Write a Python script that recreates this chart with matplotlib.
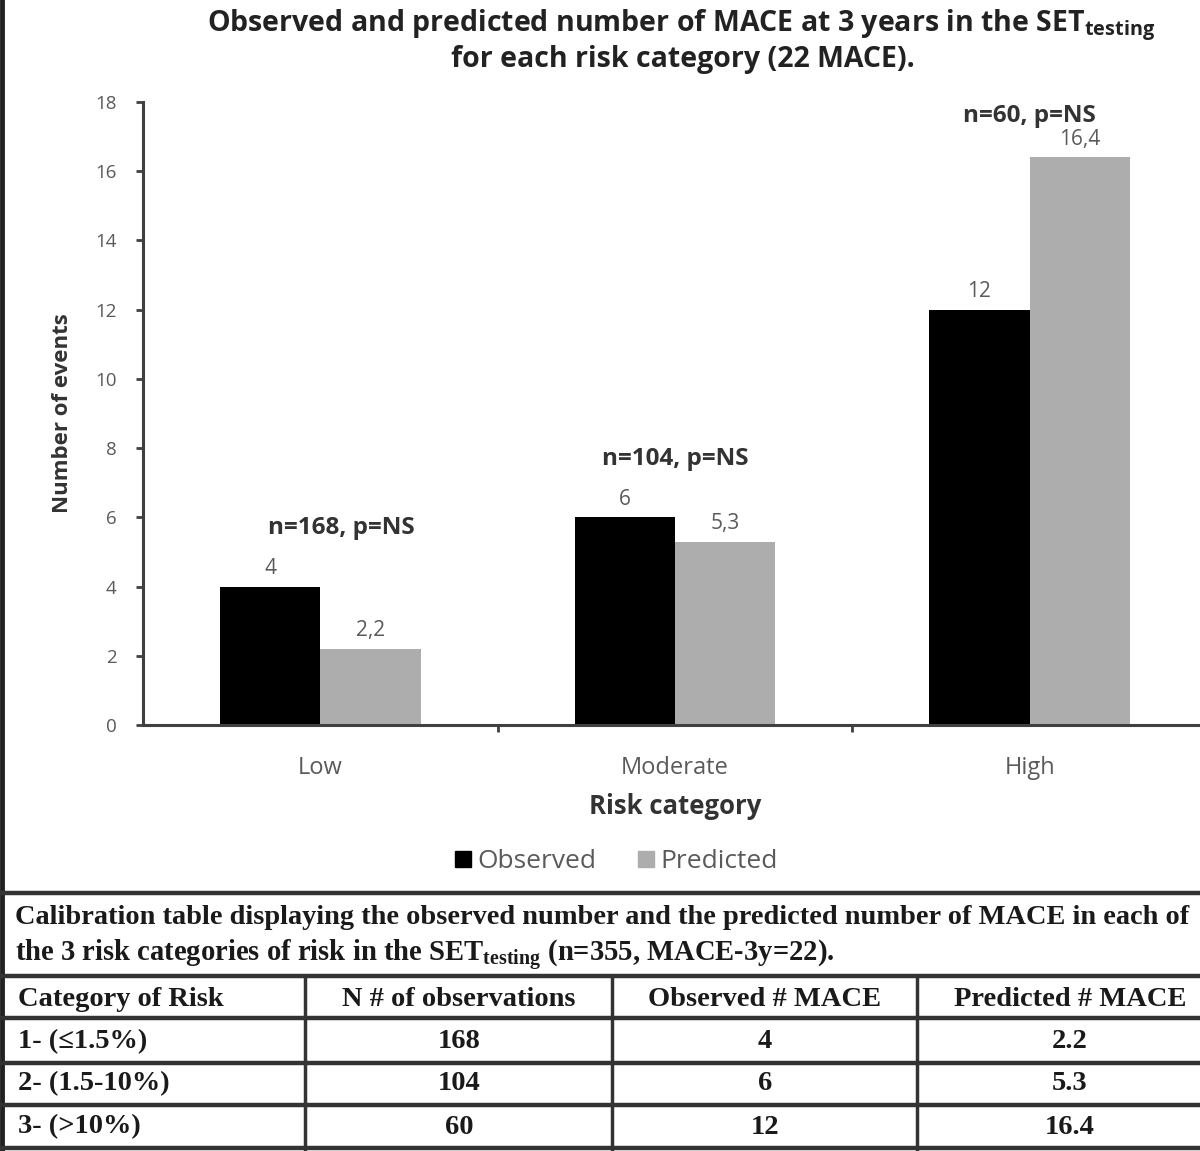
import numpy as np
import matplotlib
matplotlib.use("Agg")
import matplotlib.pyplot as plt
from matplotlib.lines import Line2D

# data
categories = ["Low", "Moderate", "High"]
observed = [4, 6, 12]
predicted = [2.2, 5.3, 16.4]
n_obs = [168, 104, 60]
risk_rows = ["1- (\u22641.5%)", "2- (1.5-10%)", "3- (>10%)"]
table_header = ["Category of Risk", "N # of observations", "Observed # MACE", "Predicted # MACE"]

W, H = 1200, 1151
fig = plt.figure(figsize=(W / 100, H / 100), dpi=100)

def fx(x):
    return x / W

def fy(y):
    return 1 - y / H

sans = "Open Sans"
serif = "Liberation Serif"
gray_txt = "#5a5a5a"

# chart
ax = fig.add_axes([fx(143), fy(725), (1207 - 143) / W, (725 - 102) / H])
x = np.arange(len(categories))
bw = 0.283
ax.bar(x - bw / 2, observed, bw, color="black", label="Observed")
ax.bar(x + bw / 2, predicted, bw, color="#adadad", label="Predicted")
ax.set_xlim(-0.5, 2.5)
ax.set_ylim(0, 18)
ax.set_yticks(range(0, 19, 2))
ax.set_xticks(x)
ax.set_xticklabels(categories)
ax.set_xticks([0.5, 1.5], minor=True)
ax.tick_params(axis="x", which="major", length=0, pad=22, labelsize=17, labelcolor=gray_txt)
ax.tick_params(axis="x", which="minor", length=5, width=2, color="#404040", direction="out")
ax.tick_params(axis="y", length=5, width=2, color="#404040", pad=14, labelsize=13.5, labelcolor=gray_txt)
for lab in ax.get_xticklabels() + ax.get_yticklabels():
    lab.set_family(sans)
for s in ["top", "right"]:
    ax.spines[s].set_visible(False)
for s in ["left", "bottom"]:
    ax.spines[s].set_linewidth(2.2)
    ax.spines[s].set_color("#404040")

def fmt(v):
    return str(v).replace(".", ",")

for i in range(len(categories)):
    ax.annotate(fmt(observed[i]), (x[i] - bw / 2, observed[i]), xytext=(0, 13), textcoords="offset points",
                ha="center", va="center", fontsize=15, color=gray_txt, family=sans)
    ax.annotate(fmt(predicted[i]), (x[i] + bw / 2, predicted[i]), xytext=(0, 13), textcoords="offset points",
                ha="center", va="center", fontsize=15, color=gray_txt, family=sans)
    top = max(observed[i], predicted[i])
    ax.annotate("n=%d, p=NS" % n_obs[i], (x[i] + (0.06 if i == 0 else 0), top), xytext=(0, 42 if i < 2 else 30),
                textcoords="offset points", ha="center", va="center", fontsize=17.5, fontweight="bold",
                color="#333333", family=sans)

ax.set_ylabel("Number of events", fontsize=16, fontweight="bold", family=sans, color="#333333", labelpad=16)
fig.text(fx(675), fy(806), "Risk category", ha="center", va="center", fontsize=18.5, fontweight="bold",
         family=sans, color="#333333")

handles = [Line2D([], [], marker="s", ls="", color="black", markersize=11),
           Line2D([], [], marker="s", ls="", color="#adadad", markersize=11)]
fig.legend(handles, ["Observed", "Predicted"], loc="center", bbox_to_anchor=(fx(615), fy(862)), ncol=2,
           frameon=False, prop={"family": sans, "size": 19}, labelcolor=gray_txt,
           handletextpad=0.15, columnspacing=1.5, handlelength=0.8)

fig.text(fx(681), fy(25), r"Observed and predicted number of MACE at 3 years in the SET$_{\mathregular{testing}}$",
         ha="center", va="center", fontsize=20.5, fontweight="bold", family=sans, color="#222222")
fig.text(fx(683), fy(60), "for each risk category (22 MACE).", ha="center", va="center",
         fontsize=20.5, fontweight="bold", family=sans, color="#222222")

# left border
fig.add_artist(Line2D([fx(2), fx(2)], [0, 1], color="#222222", lw=3.5))

# table
lc = "#333333"
for yy in [893, 976, 1018, 1063, 1105, 1148]:
    fig.add_artist(Line2D([0, 1], [fy(yy), fy(yy)], color=lc, lw=3.2))
for xx in [305, 612, 917]:
    fig.add_artist(Line2D([fx(xx), fx(xx)], [fy(976), fy(1151)], color=lc, lw=2.5))

fig.text(fx(15), fy(918), "Calibration table displaying the observed number and the predicted number of MACE in each of",
         ha="left", va="center", fontsize=20.4, fontweight="bold", family=serif, color="#1a1a1a")
fig.text(fx(15), fy(955), r"the 3 risk categories of risk in the SET$_{\mathregular{testing}}$ (n=355, MACE-3y=22).",
         ha="left", va="center", fontsize=20.6, fontweight="bold", family=serif, color="#1a1a1a")

col_x = [18, 459, 765, 1070]
row_y = [1000, 1042, 1084, 1127]
for j, h in enumerate(table_header):
    fig.text(fx(col_x[j]), fy(row_y[0]), h, ha="left" if j == 0 else "center", va="center",
             fontsize=20.5, fontweight="bold", family=serif, color="#1a1a1a")
for i in range(3):
    vals = [risk_rows[i], str(n_obs[i]), str(observed[i]), str(predicted[i])]
    for j, v in enumerate(vals):
        fig.text(fx(col_x[j]), fy(row_y[i + 1]), v, ha="left" if j == 0 else "center", va="center",
                 fontsize=20.5, fontweight="bold", family=serif, color="#1a1a1a")

fig.savefig("out.png", dpi=100)
